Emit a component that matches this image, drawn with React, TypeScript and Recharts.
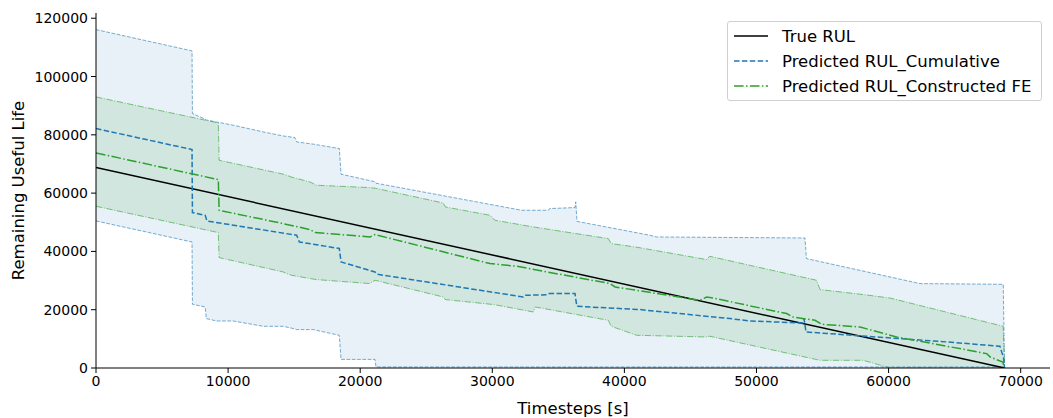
import {
  Area,
  ComposedChart,
  Line,
  XAxis,
  YAxis,
} from "recharts";

// x ticks / y ticks
const xTicks = [0, 10000, 20000, 30000, 40000, 50000, 60000, 70000];
const yTicks = [0, 20000, 40000, 60000, 80000, 100000, 120000];

// true RUL
const trueX = [0, 68780];
const trueRul = [68780, 0];

// cumulative band (upper / lower) on one grid
const cumBandX = [
  0, 7270, 7300, 8270, 8350, 9140, 10390, 12660, 14180, 15060, 15190, 16450,
  18420, 18550, 21120, 21200, 26800, 32220, 34240, 34340, 36260, 36320, 36410,
  41940, 42440, 53670, 53780, 62380, 68680, 68780,
];
const cumUpper = [
  116100, 108800, 87300, 85350, 85100, 84400, 83300, 81000, 79600, 79070, 77560,
  76800, 75300, 66500, 63900, 63400, 58680, 54120, 54120, 54700, 55040, 57000,
  50300, 45540, 44960, 44610, 37540, 28960, 28720, 0,
];
const cumLower = [
  50450, 43240, 21860, 20930, 16950, 16130, 16130, 14310, 14310, 13400, 13180,
  13180, 11220, 2950, 2950, 350, 350, 350, 350, 350, 350, 350, 350, 350, 350,
  350, 350, 350, 350, 0,
];

// cumulative prediction
const cumX = [
  0, 7270, 7300, 8270, 8400, 15190, 15400, 18420, 18550, 21120, 21300, 32350,
  32500, 34120, 34300, 36260, 36400, 41180, 47990, 49500, 53500, 53600, 53750,
  64500, 68430, 68700, 68780,
];
const cumPred = [
  82150, 74950, 53330, 52400, 50450, 45540, 43240, 41000, 36380, 32940, 32150,
  24360, 24950, 25100, 25530, 25530, 21170, 20040, 16950, 16130, 15440, 16900,
  12350, 8920, 7450, 3500, 0,
];

// constructed FE band
const feBandX = [
  0, 9260, 9320, 14180, 14440, 14800, 16200, 16700, 20740, 21120, 26290, 26450,
  29830, 30200, 33100, 33250, 38780, 39000, 40930, 46230, 46450, 54550, 54810,
  58090, 60110, 68680, 68780,
];
const feUpper = [
  93000, 84080, 71280, 66500, 66130, 65500, 63830, 62700, 61900, 61700, 56620,
  55250, 52400, 50690, 48400, 48300, 44400, 42690, 41450, 37200, 38330, 30100,
  26900, 25190, 24000, 14310, 0,
];
const feLower = [
  55490, 46460, 37880, 32940, 32400, 31810, 30700, 30330, 28960, 30100, 24360,
  23470, 21900, 21700, 19220, 20930, 16370, 14310, 11220, 10640, 10900, 2900,
  2640, 2640, 0, 0, 0,
];

// constructed FE prediction
const feX = [
  0, 9260, 9320, 14150, 16200, 16600, 20740, 21120, 29830, 31850, 38910, 39300,
  45720, 46230, 46600, 52290, 52760, 54430, 54940, 57840, 60610, 67430, 67700,
  68650, 68780,
];
const fePred = [
  73780, 64650, 54120, 49550, 47490, 46460, 44960, 45770, 35820, 34900, 28960,
  27800, 23230, 24360, 24100, 18670, 17500, 16370, 15000, 14070, 10640, 4940,
  3770, 2000, 0,
];

const BLUE = "#1f77b4";
const GREEN = "#2ca02c";
const FONT = "'DejaVu Sans', sans-serif";

const trueData = trueX.map((x, i) => ({ x, y: trueRul[i] }));
const cumData = cumX.map((x, i) => ({ x, y: cumPred[i] }));
const feData = feX.map((x, i) => ({ x, y: fePred[i] }));
const cumBand = cumBandX.map((x, i) => ({ x, hi: cumUpper[i], lo: cumLower[i] }));
const feBand = feBandX.map((x, i) => ({ x, hi: feUpper[i], lo: feLower[i] }));

const legendItems = [
  { label: "True RUL", color: "#000", dash: undefined },
  { label: "Predicted RUL_Cumulative", color: BLUE, dash: "5.5 2.4" },
  { label: "Predicted RUL_Constructed FE", color: GREEN, dash: "9.6 2.4 1.5 2.4" },
];

const ChartLegend = () => (
  <div
    style={{
      position: "absolute",
      left: 727,
      top: 21,
      width: 315,
      height: 80,
      border: "1px solid #d0d0d0",
      borderRadius: 3,
      background: "rgba(255,255,255,0.8)",
      fontFamily: FONT,
      fontSize: 16.5,
      color: "#000",
      boxSizing: "border-box",
    }}
  >
    {legendItems.map((item, i) => (
      <div
        key={item.label}
        style={{
          position: "absolute",
          left: 5,
          top: 2 + i * 25,
          height: 24,
          display: "flex",
          alignItems: "center",
          whiteSpace: "nowrap",
        }}
      >
        <svg width={36} height={10} style={{ marginRight: 13 }}>
          <line
            x1={1}
            y1={5}
            x2={35}
            y2={5}
            stroke={item.color}
            strokeWidth={1.5}
            strokeDasharray={item.dash}
          />
        </svg>
        <span>{item.label}</span>
      </div>
    ))}
  </div>
);

const App = () => {
  return (
    <div style={{ position: "absolute", left: 0, top: 0, width: 1053, height: 418 }}>
      <ComposedChart
        width={1053}
        height={418}
        margin={{ top: 13, right: 3, bottom: 0, left: 0 }}
      >
        <XAxis
          dataKey="x"
          type="number"
          domain={[0, 72220]}
          ticks={xTicks}
          allowDataOverflow
          height={50}
          stroke="#000"
          tickSize={5}
          tick={{ fill: "#000", fontSize: 14, fontFamily: FONT }}
          tickMargin={3}
          label={{
            value: "Timesteps [s]",
            position: "insideBottom",
            offset: 4,
            fill: "#000",
            fontSize: 16.5,
            fontFamily: FONT,
          }}
        />
        <YAxis
          type="number"
          domain={[0, 121800]}
          ticks={yTicks}
          allowDataOverflow
          width={96}
          stroke="#000"
          tickSize={5}
          tick={{ fill: "#000", fontSize: 14, fontFamily: FONT }}
          tickMargin={3}
          label={{
            value: "Remaining Useful Life",
            angle: -90,
            position: "insideLeft",
            offset: 18,
            style: { textAnchor: "middle" },
            fill: "#000",
            fontSize: 16.5,
            fontFamily: FONT,
          }}
        />
        <Area
          data={cumBand}
          dataKey={(d: { lo: number; hi: number }) => [d.lo, d.hi]}
          type="linear"
          stroke="none"
          fill={BLUE}
          fillOpacity={0.1}
          isAnimationActive={false}
        />
        <Area
          data={feBand}
          dataKey={(d: { lo: number; hi: number }) => [d.lo, d.hi]}
          type="linear"
          stroke="none"
          fill={GREEN}
          fillOpacity={0.12}
          isAnimationActive={false}
        />
        <Line
          data={cumBand}
          dataKey="hi"
          type="linear"
          stroke={BLUE}
          strokeOpacity={0.6}
          strokeWidth={1}
          strokeDasharray="3.7 1.6"
          dot={false}
          isAnimationActive={false}
        />
        <Line
          data={cumBand}
          dataKey="lo"
          type="linear"
          stroke={BLUE}
          strokeOpacity={0.6}
          strokeWidth={1}
          strokeDasharray="3.7 1.6"
          dot={false}
          isAnimationActive={false}
        />
        <Line
          data={feBand}
          dataKey="hi"
          type="linear"
          stroke={GREEN}
          strokeOpacity={0.6}
          strokeWidth={1}
          strokeDasharray="6.4 1.6 1 1.6"
          dot={false}
          isAnimationActive={false}
        />
        <Line
          data={feBand}
          dataKey="lo"
          type="linear"
          stroke={GREEN}
          strokeOpacity={0.6}
          strokeWidth={1}
          strokeDasharray="6.4 1.6 1 1.6"
          dot={false}
          isAnimationActive={false}
        />
        <Line
          data={trueData}
          dataKey="y"
          type="linear"
          stroke="#000"
          strokeWidth={1.5}
          dot={false}
          isAnimationActive={false}
        />
        <Line
          data={cumData}
          dataKey="y"
          type="linear"
          stroke={BLUE}
          strokeWidth={1.5}
          strokeDasharray="5.5 2.4"
          dot={false}
          isAnimationActive={false}
        />
        <Line
          data={feData}
          dataKey="y"
          type="linear"
          stroke={GREEN}
          strokeWidth={1.5}
          strokeDasharray="9.6 2.4 1.5 2.4"
          dot={false}
          isAnimationActive={false}
        />
      </ComposedChart>
      <ChartLegend />
    </div>
  );
};

export default App;
